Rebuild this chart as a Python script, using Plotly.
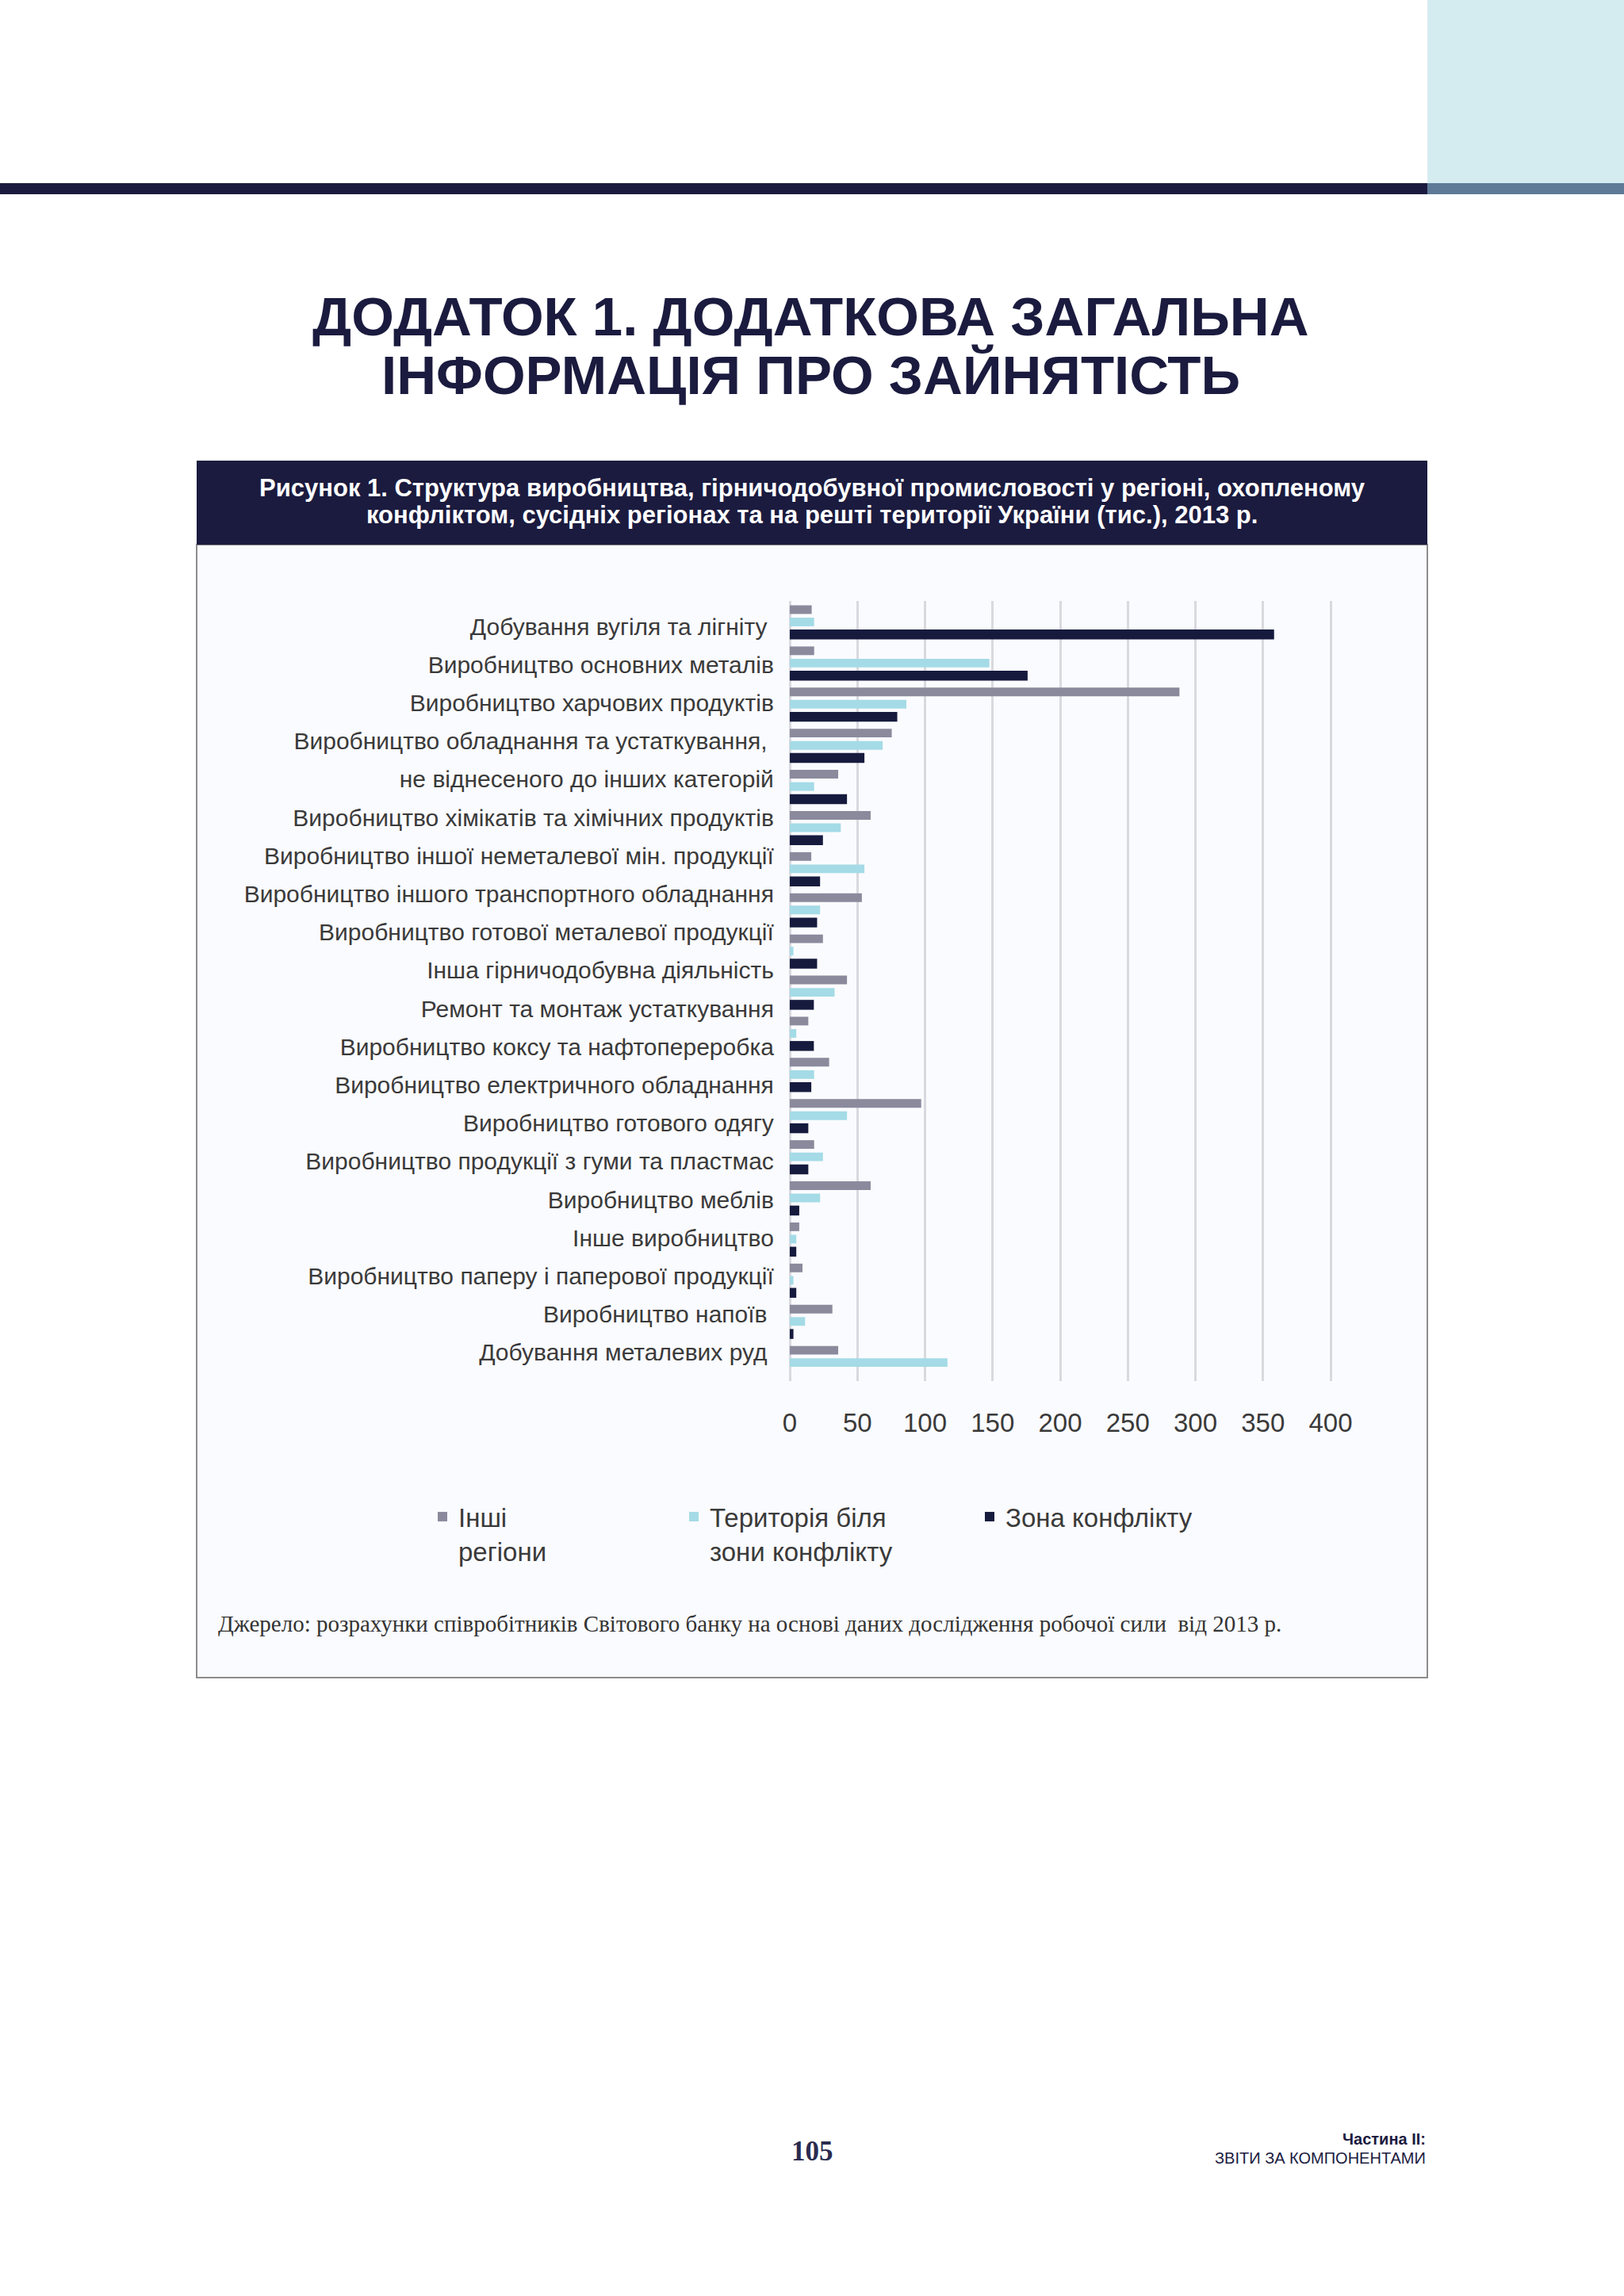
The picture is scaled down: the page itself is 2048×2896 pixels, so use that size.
import plotly.graph_objects as go

W, H = 2048, 2896

# ---------------- data ----------------
categories = [
    "Добування вугіля та лігніту",
    "Виробництво основних металів",
    "Виробництво харчових продуктів",
    "Виробництво обладнання та устаткування, не віднесеного до інших категорій",
    "Виробництво хімікатів та хімічних продуктів",
    "Виробництво іншої неметалевої мін. продукції",
    "Виробництво іншого транспортного обладнання",
    "Виробництво готової металевої продукції",
    "Інша гірничодобувна діяльність",
    "Ремонт та монтаж устаткування",
    "Виробництво коксу та нафтопереробка",
    "Виробництво електричного обладнання",
    "Виробництво готового одягу",
    "Виробництво продукції з гуми та пластмас",
    "Виробництво меблів",
    "Інше виробництво",
    "Виробництво паперу і паперової продукції",
    "Виробництво напоїв",
    "Добування металевих руд",
]

label_lines = [
    "Добування вугіля та лігніту\u00a0",
    "Виробництво основних металів",
    "Виробництво харчових продуктів",
    "Виробництво обладнання та устаткування,\u00a0",
    "не віднесеного до інших категорій",
    "Виробництво хімікатів та хімічних продуктів",
    "Виробництво іншої неметалевої мін. продукції",
    "Виробництво іншого транспортного обладнання",
    "Виробництво готової металевої продукції",
    "Інша гірничодобувна діяльність",
    "Ремонт та монтаж устаткування",
    "Виробництво коксу та нафтопереробка",
    "Виробництво електричного обладнання",
    "Виробництво готового одягу",
    "Виробництво продукції з гуми та пластмас",
    "Виробництво меблів",
    "Інше виробництво",
    "Виробництво паперу і паперової продукції",
    "Виробництво напоїв\u00a0",
    "Добування металевих руд\u00a0",
]

other_regions = [16.2, 18.0, 288.2, 75.4, 35.8, 59.8, 15.9, 53.3, 24.5, 42.3,
                 13.7, 29.1, 97.2, 18.0, 59.8, 7.0, 9.4, 31.5, 35.8]
near_conflict = [18.0, 147.6, 86.2, 68.7, 18.0, 37.7, 55.2, 22.4, 2.7, 33.1,
                 4.8, 18.0, 42.3, 24.5, 22.4, 4.8, 2.7, 11.3, 116.6]
conflict_zone = [358.2, 175.9, 79.5, 55.2, 42.3, 24.5, 22.4, 20.2, 20.2, 17.8,
                 17.8, 15.9, 13.7, 13.7, 7.0, 4.8, 4.8, 2.7, 0.0]

series_names = ["Інші<br>регіони", "Територія біля<br>зони конфлікту", "Зона конфлікту"]
x_ticks = [0, 50, 100, 150, 200, 250, 300, 350, 400]

title_line1 = "ДОДАТОК 1. ДОДАТКОВА ЗАГАЛЬНА"
title_line2 = "ІНФОРМАЦІЯ ПРО ЗАЙНЯТІСТЬ"
caption_line1 = "Рисунок 1. Структура виробництва, гірничодобувної промисловості у регіоні, охопленому"
caption_line2 = "конфліктом, сусідніх регіонах та на решті території України (тис.), 2013 р."
source_text = "Джерело: розрахунки співробітників Світового банку на основі даних дослідження робочої сили  від 2013 р."
page_number = "105"
footer_1 = "Частина II:"
footer_2 = "ЗВІТИ ЗА КОМПОНЕНТАМИ"

# ---------------- styles ----------------
NAVY = "#161b3e"
GREY = "#8b8a9d"
CYAN = "#a4dbe6"
TEXT = "#3a3a3a"


def px(x):
    return x / W


def py(y):
    return 1 - y / H


fig = go.Figure()

fig.add_trace(go.Bar(
    y=categories, x=other_regions, orientation="h", name=series_names[0],
    marker=dict(color=GREY, line=dict(width=0)), width=0.21, offset=-0.405,
    legend="legend",
))
fig.add_trace(go.Bar(
    y=categories, x=near_conflict, orientation="h", name=series_names[1],
    marker=dict(color=CYAN, line=dict(width=0)), width=0.21, offset=-0.105,
    legend="legend2",
))
fig.add_trace(go.Bar(
    y=categories, x=conflict_zone, orientation="h", name=series_names[2],
    marker=dict(color=NAVY, line=dict(width=0)), width=0.24, offset=0.185,
    legend="legend3",
))
# carrier trace so the label axis is drawn
fig.add_trace(go.Scatter(x=[None], y=[None], yaxis="y2", showlegend=False,
                         hoverinfo="skip"))

x0_px, x400_px = 996.0, 1678.0
unit = (x400_px - x0_px) / 400.0
pad = 3
fig.update_layout(
    width=W, height=H, autosize=False,
    margin=dict(l=0, r=0, t=0, b=0, pad=0, autoexpand=False),
    paper_bgcolor="#ffffff",
    plot_bgcolor="rgba(0,0,0,0)",
    barmode="overlay",
    font=dict(family="Liberation Sans, Arial, sans-serif", color=TEXT),
    xaxis=dict(
        domain=[px(x0_px - pad * unit), px(x400_px + pad * unit)],
        range=[-pad, 400 + pad],
        tickmode="array", tickvals=x_ticks, ticktext=[str(v) for v in x_ticks],
        showgrid=True, gridcolor="#d9d9df", gridwidth=2.5,
        zeroline=False, showline=False, ticks="",
        tickfont=dict(size=33, color=TEXT),
        ticklabelstandoff=30, automargin=False,
    ),
    yaxis=dict(
        domain=[py(1742), py(758)],
        type="category", categoryorder="array", categoryarray=categories,
        range=[18.45, -0.511],
        showticklabels=False, showgrid=False, zeroline=False, ticks="",
        automargin=False,
    ),
    yaxis2=dict(
        overlaying="y", anchor="x", side="left",
        range=[19.747, -0.664],
        tickmode="array", tickvals=list(range(len(label_lines))), ticktext=label_lines,
        showgrid=False, zeroline=False, showline=False, ticks="",
        tickfont=dict(size=30, color=TEXT),
        ticklabelstandoff=14, automargin=False,
    ),
    showlegend=True,
)

legend_common = dict(
    orientation="v", xanchor="left", yanchor="top", valign="top",
    bgcolor="rgba(0,0,0,0)", borderwidth=0,
    font=dict(size=33, color=TEXT, family="Liberation Sans, Arial, sans-serif"),
)
fig.update_layout(
    legend=dict(x=px(538), y=py(1885), **legend_common),
    legend2=dict(x=px(855), y=py(1885), **legend_common),
    legend3=dict(x=px(1228), y=py(1885), **legend_common),
)

# ---------------- page decoration ----------------
shapes = [
    dict(type="rect", x0=px(1800), x1=px(2048), y0=py(0), y1=py(231),
         fillcolor="#d4ebf0", line=dict(width=0)),
    dict(type="rect", x0=px(0), x1=px(1800), y0=py(231), y1=py(245),
         fillcolor="#1b1b3f", line=dict(width=0)),
    dict(type="rect", x0=px(1800), x1=px(2048), y0=py(231), y1=py(245),
         fillcolor="#5e7a96", line=dict(width=0)),
    dict(type="rect", x0=px(248), x1=px(1800), y0=py(687), y1=py(2116),
         fillcolor="#fafbfe", line=dict(color="#8c8c8c", width=2)),
    dict(type="rect", x0=px(248), x1=px(1800), y0=py(581), y1=py(687),
         fillcolor="#1b1b3f", line=dict(width=0)),
]
for s in shapes:
    s.update(xref="paper", yref="paper", layer="below")
fig.update_layout(shapes=shapes)

annotations = [
    dict(text=f"<b>{title_line1}</b>", x=px(1022), y=py(400), xanchor="center",
         yanchor="middle", font=dict(size=69, color="#1b1b3f")),
    dict(text=f"<b>{title_line2}</b>", x=px(1022), y=py(473), xanchor="center",
         yanchor="middle", font=dict(size=69, color="#1b1b3f")),
    dict(text=f"<b>{caption_line1}</b>", x=px(1024), y=py(615), xanchor="center",
         yanchor="middle", font=dict(size=31, color="#ffffff")),
    dict(text=f"<b>{caption_line2}</b>", x=px(1024), y=py(650), xanchor="center",
         yanchor="middle", font=dict(size=31, color="#ffffff")),
    dict(text=source_text, x=px(273), y=py(2048), xanchor="left", yanchor="middle",
         font=dict(size=29, color="#333333", family="Liberation Serif, Times New Roman, serif")),
    dict(text=f"<b>{page_number}</b>", x=px(1024), y=py(2713), xanchor="center",
         yanchor="middle",
         font=dict(size=35, color="#2b2b4f", family="Liberation Serif, Times New Roman, serif")),
    dict(text=f"<b>{footer_1}</b>", x=px(1800), y=py(2698), xanchor="right",
         yanchor="middle", font=dict(size=20, color="#1b1b3f")),
    dict(text=footer_2, x=px(1800), y=py(2722), xanchor="right",
         yanchor="middle", font=dict(size=20, color="#1b1b3f")),
]
for a in annotations:
    a.update(xref="paper", yref="paper", showarrow=False)
fig.update_layout(annotations=annotations)

fig.write_html(
    "out.html",
    config={"responsive": False, "displayModeBar": False},
    default_width=f"{W}px",
    default_height=f"{H}px",
    post_script=(
        "document.body.style.margin='0';"
        "document.body.style.padding='0';"
    ),
)
